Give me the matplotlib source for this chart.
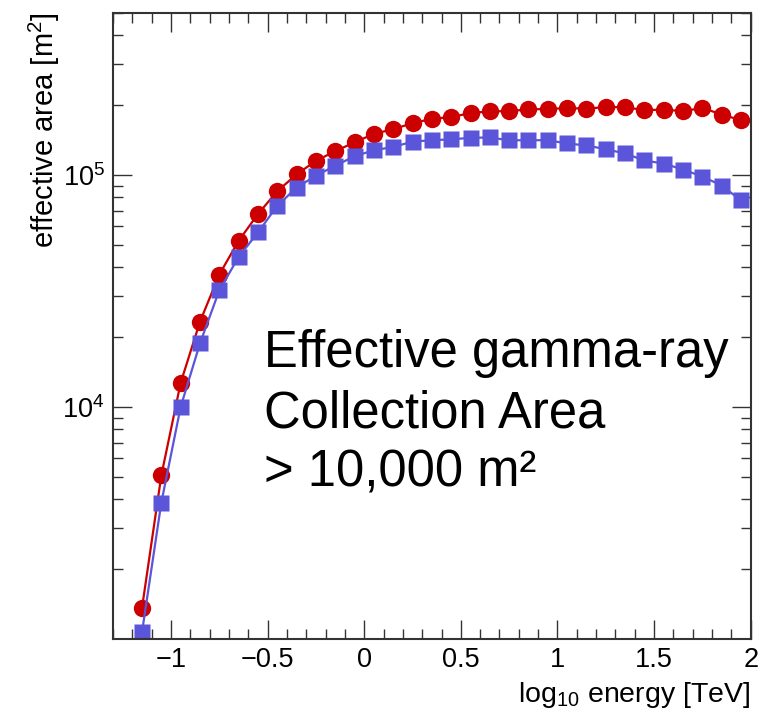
import matplotlib
matplotlib.use('Agg')
import matplotlib.pyplot as plt
from matplotlib.ticker import MultipleLocator, FixedLocator, LogLocator, NullFormatter

plt.rcParams.update({
    'font.family': ['Liberation Sans', 'DejaVu Sans'],
    'mathtext.fontset': 'custom',
    'mathtext.rm': 'Liberation Sans',
    'mathtext.it': 'Liberation Sans:italic',
    'mathtext.bf': 'Liberation Sans:bold',
})

# bin centres, log10(E/TeV)
log_energy = [-1.15, -1.05, -0.95, -0.85, -0.75, -0.65, -0.55, -0.45, -0.35, -0.25,
              -0.15, -0.05, 0.05, 0.15, 0.25, 0.35, 0.45, 0.55, 0.65, 0.75,
              0.85, 0.95, 1.05, 1.15, 1.25, 1.35, 1.45, 1.55, 1.65, 1.75,
              1.85, 1.95]
area_red = [1360, 5070, 12700, 23300, 37200, 52000, 67800, 85100, 100500, 115000,
            126500, 138200, 150200, 157500, 167000, 174500, 177500, 184800, 187800, 188500,
            191400, 192500, 193900, 193200, 195900, 195900, 190100, 191200, 188200, 194500,
            182000, 172200]
area_blue = [1070, 3870, 10000, 18800, 31800, 44300, 56500, 73600, 88200, 99200,
             109500, 120400, 127700, 132000, 139100, 141100, 142300, 144500, 145000, 141000,
             141100, 141100, 136600, 133900, 129100, 123700, 115400, 111900, 105500, 98400,
             90000, 77600]

C_RED = '#cc0000'
C_BLUE = '#5a55d9'

fig = plt.figure(figsize=(7.72, 7.11), dpi=100)
ax = fig.add_axes([0.1464, 0.1013, 0.8260, 0.8808])

ax.plot(log_energy, area_red, color=C_RED, lw=1.6, marker='o', ms=12.5, mec='none')
ax.plot(log_energy, area_blue, color=C_BLUE, lw=1.6, marker='s', ms=12, mec='none')

ax.set_yscale('log')
ax.set_xlim(-1.3, 2.0)
ax.set_ylim(1000, 5e5)

ax.xaxis.set_major_locator(MultipleLocator(0.5))
ax.xaxis.set_minor_locator(MultipleLocator(0.1))
ax.yaxis.set_major_locator(FixedLocator([1e4, 1e5]))
ax.yaxis.set_minor_locator(LogLocator(base=10, subs=range(2, 10)))
ax.yaxis.set_minor_formatter(NullFormatter())
ax.set_yticklabels(['10$^{4}$', '10$^{5}$'])
ax.set_xticks([-1, -0.5, 0, 0.5, 1, 1.5, 2])
ax.set_xticklabels(['\u22121', '\u22120.5', '0', '0.5', '1', '1.5', '2'])

ax.tick_params(which='both', direction='in', top=True, right=True, width=1.0, colors='#333333',
               labelcolor='black', labelsize=19.5)
ax.tick_params(which='major', length=14, pad=6)
ax.tick_params(which='minor', length=7)
for s in ax.spines.values():
    s.set_linewidth(1.5)
    s.set_color('#333333')

ax.set_xlabel('log$_{10}$ energy [TeV]', fontsize=20.5, loc='right', labelpad=5)
ax.set_ylabel('effective area [m$^{2}$]', fontsize=21, loc='top', labelpad=0)

for txt, yy in zip(['Effective gamma-ray', 'Collection Area', '> 10,000 m\u00b2'],
                   [0.4343, 0.3369, 0.2435]):
    ax.text(0.236, yy, txt, transform=ax.transAxes, fontsize=36.5, va='baseline', ha='left')

fig.savefig('out.png', dpi=100)
plt.close(fig)
